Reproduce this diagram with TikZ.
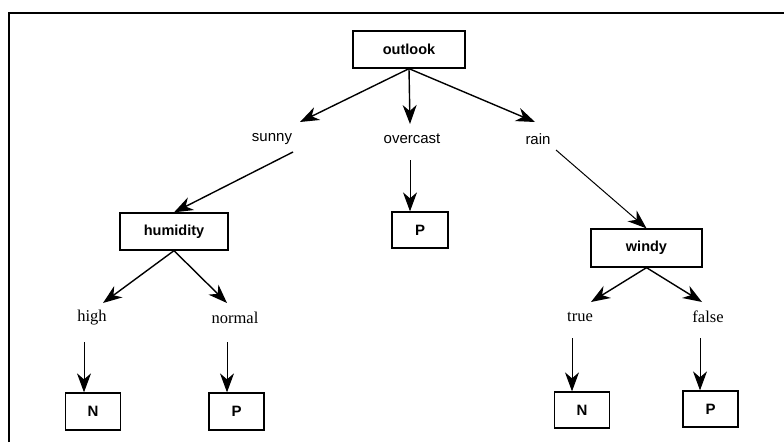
\documentclass[tikz,border=0pt]{standalone}
\usepackage{fontspec}
\setmainfont{Liberation Serif}
\setsansfont{Liberation Sans}
\usetikzlibrary{arrows.meta,calc}
\begin{document}
\begin{tikzpicture}[x=1pt,y=-1pt,
  testbox/.style={draw,line width=1.3pt,inner sep=0pt,
    font=\sffamily\bfseries\fontsize{14.5}{16}\selectfont},
  leafbox/.style={draw,line width=1.3pt,minimum width=55pt,minimum height=37pt,inner sep=0pt,
    font=\sffamily\bfseries\fontsize{15}{17}\selectfont},
  toplabel/.style={inner sep=0pt,font=\sffamily\fontsize{15}{17}\selectfont},
  leaflabel/.style={inner sep=0pt,font=\fontsize{16.5}{18}\selectfont},
  arr/.style={line width=1.4pt,-{Stealth[length=19pt,width=14pt,inset=6pt]}},
  frameline/.style={line width=2pt}]
\useasboundingbox (0,0) rectangle (784,442);
% page frame
\draw[frameline] (9,442) -- (9,13) -- (784,13);

% decision nodes
\node[testbox,minimum width=112pt,minimum height=37pt] (outlook) at (409,49.5) {outlook};
\node[testbox,minimum width=108pt,minimum height=37pt] (humidity) at (174,231.5) {humidity};
\node[testbox,minimum width=111pt,minimum height=38pt] (windy) at (646.5,248) {windy};

% branch values
\node[toplabel] (sunny) at (272,139) {sunny};
\node[toplabel] (overcast) at (412,139) {overcast};
\node[toplabel] (rain) at (538,139) {rain};
\node[leaflabel] (high) at (92,318) {high};
\node[leaflabel] (normal) at (235,318) {normal};
\node[leaflabel] (true) at (580,317) {true};
\node[leaflabel] (false) at (708,317) {false};

% leaves
\node[leafbox,minimum width=56pt,minimum height=36pt] (P0) at (420,230) {P};
\node[leafbox] (N1) at (93,411.5) {N};
\node[leafbox] (P1) at (236.5,411.5) {P};
\node[leafbox,minimum height=36pt] (N2) at (582,410) {N};
\node[leafbox,minimum height=36pt] (P2) at (710.5,409) {P};

% outlook branches
\draw[arr] (outlook.south) -- ($(sunny)+(28,-17)$);
\draw[arr] (outlook.south) -- ($(overcast)+(-2,-15)$);
\draw[arr] (outlook.south) -- ($(rain)+(-3,-17)$);

% into the subtrees
\draw[arr] ($(sunny)+(21,13)$) -- (humidity.north);
\coordinate (os) at ($(overcast)+(-2,21)$);
\draw[arr,line width=1pt] (os) -- (os |- P0.north);
\draw[arr,line width=1pt] ($(rain)+(18,11)$) -- (windy.north);

% humidity and windy branches
\draw[arr] (humidity.south) -- ($(high)+(11,-15)$);
\draw[arr] (humidity.south) -- ($(normal)+(-8,-15)$);
\draw[arr] (windy.south) -- ($(true)+(11,-15)$);
\draw[arr] (windy.south) -- ($(false)+(-6,-15)$);

% leaf arrows
\coordinate (hs) at ($(high)+(-8,24)$);
\coordinate (ns) at ($(normal)+(-8,24)$);
\coordinate (ts) at ($(true)+(-8,21)$);
\coordinate (fs) at ($(false)+(-8,21)$);
\draw[arr,line width=1pt] (hs) -- (hs |- N1.north);
\draw[arr,line width=1pt] (ns) -- (ns |- P1.north);
\draw[arr,line width=1pt] (ts) -- (ts |- N2.north);
\draw[arr,line width=1pt] (fs) -- (fs |- P2.north);
\end{tikzpicture}
\end{document}
